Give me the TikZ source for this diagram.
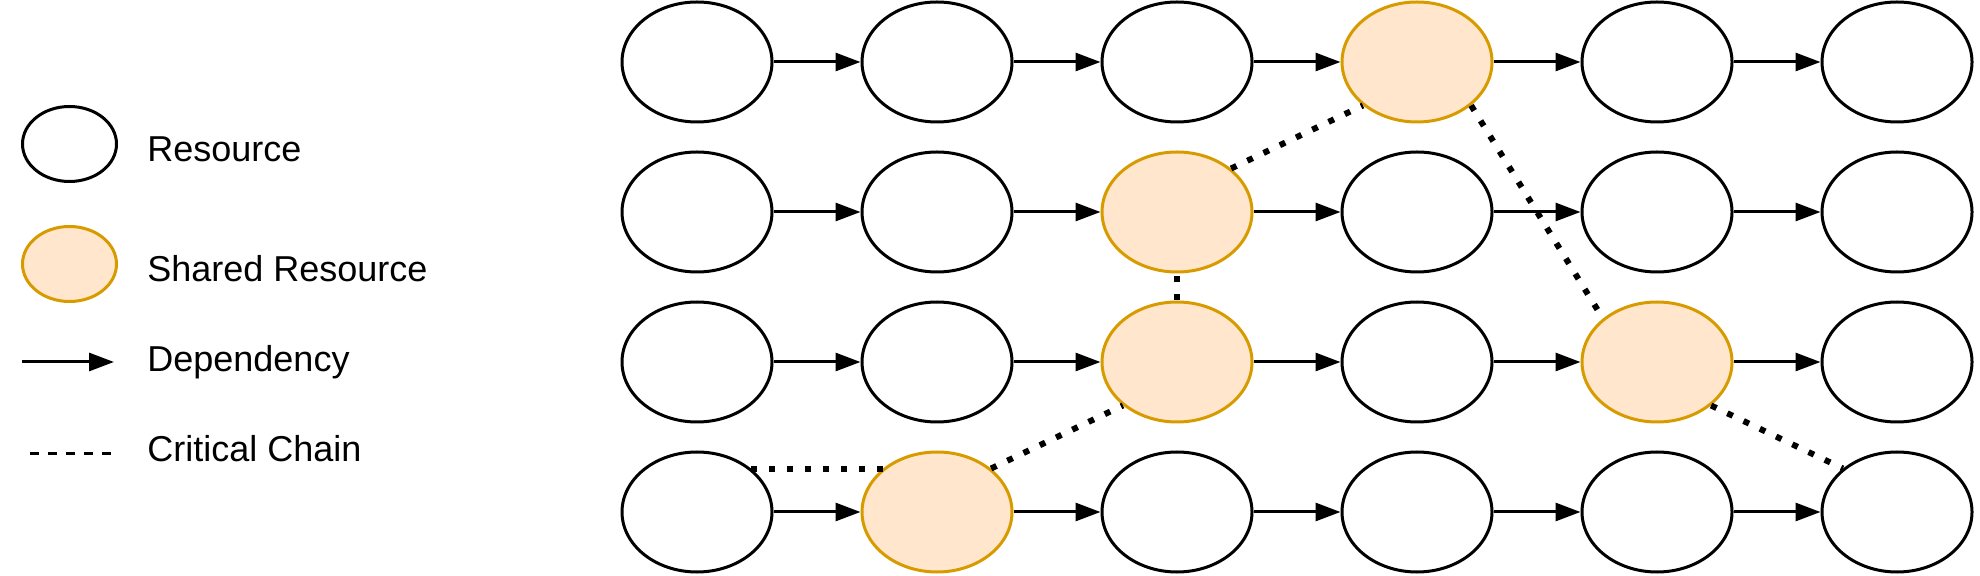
\documentclass[tikz,border=0pt]{standalone}
\usepackage{fontspec}
\setmainfont{Liberation Sans}
\usepackage{tikz}
\usetikzlibrary{arrows.meta, shapes.geometric}
\definecolor{sharedfill}{HTML}{FFE6CC}
\definecolor{shareddraw}{HTML}{D79B00}

\begin{document}
\begin{tikzpicture}[x=0.5pt, y=-0.5pt, font=\fontsize{18}{22}\selectfont]
    % Define styles
    \tikzstyle{resource} = [ellipse, draw, line width=1.5pt, inner sep=0pt,
        minimum width=75pt, minimum height=60pt]
    \tikzstyle{shared} = [resource, draw=shareddraw, fill=sharedfill]
    \tikzstyle{keyres} = [ellipse, draw, line width=1.5pt, inner sep=0pt,
        minimum width=47pt, minimum height=37.5pt]
    \tikzstyle{keyshared} = [keyres, draw=shareddraw, fill=sharedfill]
    \tikzstyle{keytext} = [anchor=base west, inner sep=0pt]
    \tikzstyle{line} = [draw, line width=1.5pt, -{Triangle[length=12.5pt, width=9pt]}]
    \tikzstyle{critical} = [draw, line width=3pt, dash pattern=on 3pt off 6pt]

    \useasboundingbox (0,0) rectangle (1980,576);

    % Place nodes
    \foreach \r/\row in {1/{resource,resource,resource,shared,resource,resource},
                         2/{resource,resource,shared,resource,resource,resource},
                         3/{resource,resource,shared,resource,shared,resource},
                         4/{resource,shared,resource,resource,resource,resource}}
        \foreach \s [count=\c] in \row
            \node [\s] (n\r\c) at (457+240*\c, -88+150*\r) {};

    % Draw edges
    \foreach \r in {1,...,4}
        \foreach \c [count=\nc from 2] in {1,...,5}
            \path [line] (n\r\c) -- (n\r\nc);

    % Critical chain
    \path [critical] (n41.north east) -- (n42.north west);
    \path [critical] (n42.north east) -- (n33.south west);
    \path [critical] (n33.north) -- (n23.south);
    \path [critical] (n23.north east) -- (n14.south west);
    \path [critical] (n14.south east) -- (n35.north west);
    \path [critical] (n35.south east) -- (n46.north west);

    % Legend
    \node [keyres] (lgres) at (69.5,144) {};
    \node [keytext] (lgrestext) at (147,162) {Resource};
    \node [keyshared] (lgshared) at (69.5,264) {};
    \node [keytext] (lgsharedtext) at (147,282) {Shared Resource};
    \coordinate (lgdepfrom) at (22,362);
    \coordinate (lgdepto) at (114,362);
    \path [line] (lgdepfrom) -- (lgdepto);
    \node [keytext] (lgdeptext) at (147,372) {Dependency};
    \coordinate (lgcritfrom) at (30,454);
    \coordinate (lgcritto) at (112,454);
    \draw [line width=1.5pt, dash pattern=on 4.5pt off 4.5pt] (lgcritfrom) -- (lgcritto);
    \node [keytext] (lgcrittext) at (147,462) {Critical Chain};
\end{tikzpicture}
\end{document}
